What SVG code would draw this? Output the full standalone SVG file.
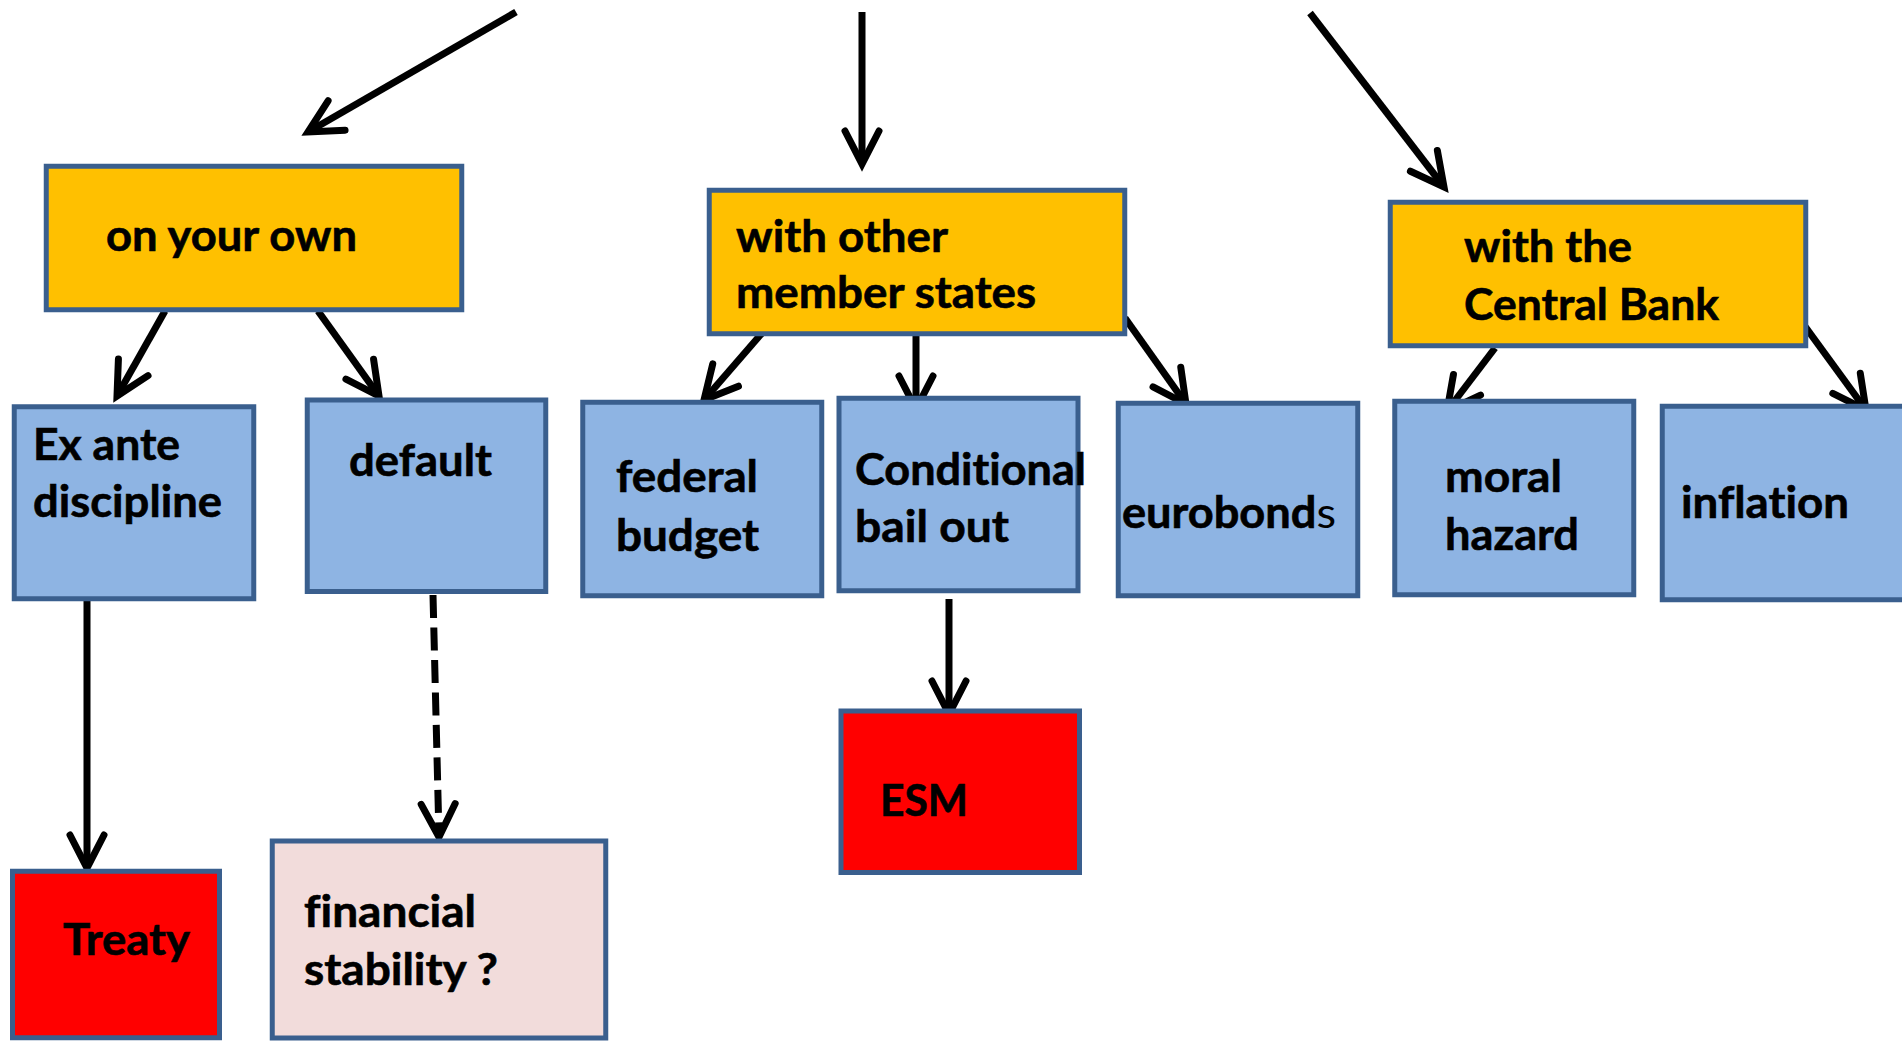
<svg xmlns="http://www.w3.org/2000/svg" width="1902" height="1041" viewBox="0 0 1902 1041">
  <defs>
    <style>
      .box { stroke: #3A5F8E; stroke-width: 5; }
      .orange { fill: #FFC000; }
      .blue { fill: #8EB4E3; }
      .red { fill: #FF0000; }
      .pink { fill: #F2DCDB; }
      .lbl { font-family: Lato, "Open Sans", "Liberation Sans", sans-serif; font-weight: bold; font-size: 43px; fill: #000; stroke: #000; stroke-width: 0.6; font-variant-ligatures: none; }
      .edge { fill: none; stroke: #000; stroke-width: 7; stroke-linecap: butt; marker-end: url(#head); }
      .dashed { stroke-dasharray: 23 9.5; }
    </style>
    <marker id="head" markerUnits="userSpaceOnUse" orient="auto" overflow="visible" markerWidth="1" markerHeight="1" refX="0" refY="0">
      <path d="M-33,-17 L0,0 L-33,17" fill="none" stroke="#000" stroke-width="7" stroke-linecap="round" stroke-linejoin="miter"/>
    </marker>
  </defs>

  <rect width="1902" height="1041" fill="#FFFFFF"/>

  <!-- connectors -->
  <g id="connectors">
    <line class="edge" x1="516" y1="12" x2="308" y2="132"/>
    <line class="edge" x1="862" y1="12" x2="862" y2="164"/>
    <line class="edge" x1="1310" y1="13" x2="1444" y2="187"/>
    <line class="edge" x1="165" y1="311" x2="117" y2="396"/>
    <line class="edge" x1="318" y1="311" x2="379" y2="396"/>
    <line class="edge" x1="769" y1="325" x2="704" y2="400"/>
    <line class="edge" x1="916" y1="331" x2="916" y2="409"/>
    <line class="edge" x1="1125" y1="318" x2="1186" y2="404"/>
    <line class="edge" x1="1495" y1="348" x2="1447" y2="411"/>
    <line class="edge" x1="1804" y1="325" x2="1866" y2="410"/>
    <line class="edge" x1="87" y1="601" x2="87" y2="868"/>
    <line class="edge dashed" x1="433" y1="595" x2="439" y2="837"/>
    <line class="edge" x1="949" y1="599" x2="949" y2="714"/>
  </g>

  <!-- top level choices -->
  <g id="on-your-own">
    <rect class="box orange" x="46.25" y="166.25" width="415.5" height="143.5"/>
    <text class="lbl" x="106" y="251" textLength="251" lengthAdjust="spacingAndGlyphs">on your own</text>
  </g>
  <g id="with-other-member-states">
    <rect class="box orange" x="709.25" y="190.25" width="415.5" height="143.5"/>
    <text class="lbl" x="736" y="252" textLength="212" lengthAdjust="spacingAndGlyphs">with other</text>
    <text class="lbl" x="736" y="308" textLength="300" lengthAdjust="spacingAndGlyphs">member states</text>
  </g>
  <g id="with-the-central-bank">
    <rect class="box orange" x="1390.25" y="202.25" width="415.5" height="143.5"/>
    <text class="lbl" x="1464" y="262" textLength="168" lengthAdjust="spacingAndGlyphs">with the</text>
    <text class="lbl" x="1464" y="320" textLength="255" lengthAdjust="spacingAndGlyphs">Central Bank</text>
  </g>

  <!-- second row -->
  <g id="ex-ante-discipline">
    <rect class="box blue" x="14.25" y="406.75" width="239.5" height="192"/>
    <text class="lbl" x="33" y="460" textLength="147" lengthAdjust="spacingAndGlyphs">Ex ante</text>
    <text class="lbl" x="33" y="517" textLength="189" lengthAdjust="spacingAndGlyphs">discipline</text>
  </g>
  <g id="default">
    <rect class="box blue" x="307.25" y="400" width="238.5" height="191.5"/>
    <text class="lbl" x="349" y="476" textLength="143" lengthAdjust="spacingAndGlyphs">default</text>
  </g>
  <g id="federal-budget">
    <rect class="box blue" x="582.75" y="402.25" width="239" height="193.5"/>
    <text class="lbl" x="616" y="492" textLength="142" lengthAdjust="spacingAndGlyphs">federal</text>
    <text class="lbl" x="616" y="551" textLength="143" lengthAdjust="spacingAndGlyphs">budget</text>
  </g>
  <g id="conditional-bail-out">
    <rect class="box blue" x="839" y="398.25" width="239" height="192.5"/>
    <text class="lbl" x="855" y="485" textLength="231" lengthAdjust="spacingAndGlyphs">Conditional</text>
    <text class="lbl" x="855" y="542" textLength="154" lengthAdjust="spacingAndGlyphs">bail out</text>
  </g>
  <g id="eurobonds">
    <rect class="box blue" x="1118.25" y="403.25" width="239.5" height="192.5"/>
    <text class="lbl" x="1122" y="528" textLength="214" lengthAdjust="spacingAndGlyphs">eurobond<tspan font-weight="normal" stroke-width="0">s</tspan></text>
  </g>
  <g id="moral-hazard">
    <rect class="box blue" x="1394.75" y="401.25" width="239" height="193.5"/>
    <text class="lbl" x="1445" y="492" textLength="117" lengthAdjust="spacingAndGlyphs">moral</text>
    <text class="lbl" x="1445" y="550" textLength="134" lengthAdjust="spacingAndGlyphs">hazard</text>
  </g>
  <g id="inflation">
    <rect class="box blue" x="1662.25" y="406.25" width="260" height="193.5"/>
    <text class="lbl" x="1681" y="518" textLength="168" lengthAdjust="spacingAndGlyphs">inflation</text>
  </g>

  <!-- outcomes -->
  <g id="treaty">
    <rect class="box red" x="12.5" y="871.25" width="207" height="166.5"/>
    <text class="lbl" x="63" y="955" textLength="127" lengthAdjust="spacingAndGlyphs">Treaty</text>
  </g>
  <g id="financial-stability">
    <rect class="box pink" x="272.25" y="841" width="333.5" height="197"/>
    <text class="lbl" x="304" y="927" textLength="172" lengthAdjust="spacingAndGlyphs">financial</text>
    <text class="lbl" x="304" y="985" textLength="194" lengthAdjust="spacingAndGlyphs">stability ?</text>
  </g>
  <g id="esm">
    <rect class="box red" x="841" y="711" width="238.5" height="161.5"/>
    <text class="lbl" x="880" y="816" textLength="88" lengthAdjust="spacingAndGlyphs">ESM</text>
  </g>
</svg>
